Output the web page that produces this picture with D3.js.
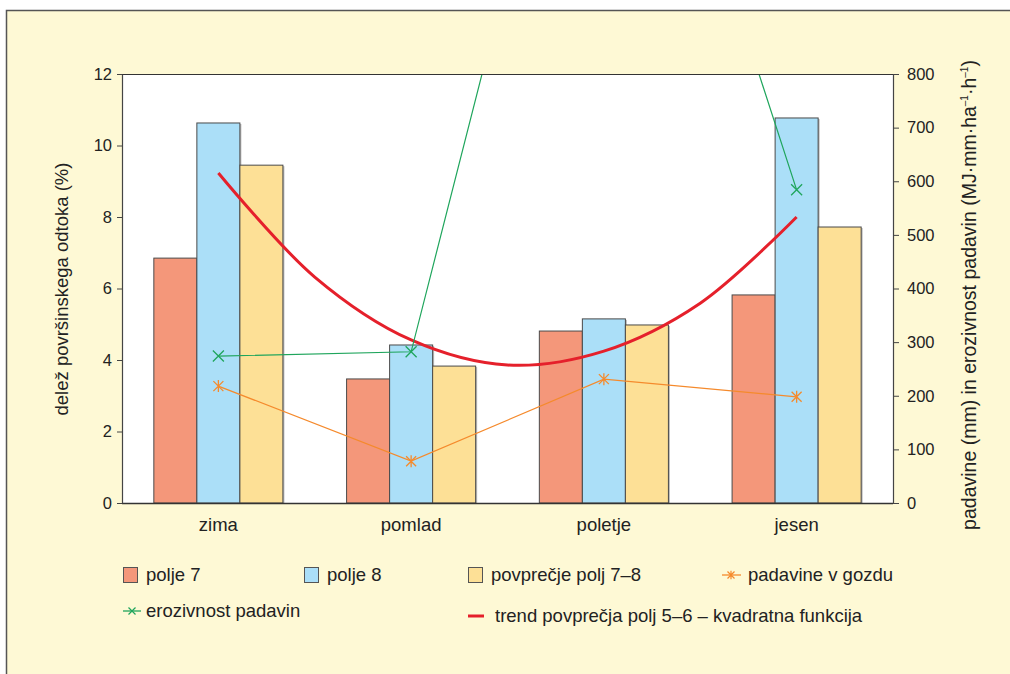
<!DOCTYPE html>
<html>
<head>
<meta charset="utf-8">
<script src="https://cdn.jsdelivr.net/npm/d3@7"></script>
<style>
  body { margin: 0; background: #fff; }
  svg { display: block; font-family: "Liberation Sans", Arial, sans-serif; }
</style>
</head>
<body>
<svg id="chart" width="1010" height="674"></svg>
<script>
"use strict";

// seasons and bar series (left axis, %)
const seasons = ["zima", "pomlad", "poletje", "jesen"];
const barKeys = ["polje 7", "polje 8", "povprečje polj 7–8"];
const polje7 = [6.85, 3.47, 4.81, 5.82];
const polje8 = [10.63, 4.42, 5.15, 10.77];
const povprecje = [9.45, 3.83, 4.98, 7.72];

// lines on right axis
const padavine = [218, 78, 231, 198];
const erozivnost = [274, 282, 1690, 584];

// quadratic trend at half-season steps (left axis)
const trendPos = [0, 0.5, 1, 1.5, 2, 2.5, 3];
const trendVals = [9.23, 6.32, 4.56, 3.86, 4.25, 5.59, 8.0];

const leftTicks = [0, 2, 4, 6, 8, 10, 12];
const rightTicks = [0, 100, 200, 300, 400, 500, 600, 700, 800];

const colors = { "polje 7": "#f4977a", "polje 8": "#abdff8", "povprečje polj 7–8": "#fde096" };
const green = "#1fa55c", orange = "#f58a2c", red = "#e5202b";

const svg = d3.select("#chart");
const plotLeft = 122, plotRight = 893, plotTop = 74, plotBottom = 503;

// panel
svg.append("rect")
    .attr("x", 6.5).attr("y", 10.5)
    .attr("width", 1020).attr("height", 700)
    .attr("fill", "#fef9d5")
    .attr("stroke", "#555").attr("stroke-width", 1.5);

svg.append("rect")
    .attr("x", plotLeft).attr("y", plotTop)
    .attr("width", plotRight - plotLeft).attr("height", plotBottom - plotTop)
    .attr("fill", "#fff");

const x = d3.scaleBand().domain(seasons).range([plotLeft, plotRight]);
const xs = d3.scaleBand().domain(barKeys).range([0, x.bandwidth()]).paddingOuter(0.74);
const yL = d3.scaleLinear().domain([0, 12]).range([plotBottom, plotTop]);
const yR = d3.scaleLinear().domain([0, 800]).range([plotBottom, plotTop]);
const cx = i => x(seasons[i]) + x.bandwidth() / 2;
const xt = d3.scaleLinear().domain([0, 3]).range([cx(0), cx(3)]);

// bars
const barData = [polje7, polje8, povprecje];
const groups = svg.append("g").selectAll("g")
    .data(seasons)
    .join("g")
    .attr("transform", d => `translate(${x(d)},0)`);

groups.selectAll("rect.shadow")
    .data((d, i) => barKeys.map((k, j) => ({ key: k, value: barData[j][i] })))
    .join("rect")
    .attr("class", "shadow")
    .attr("x", d => xs(d.key) + 1.5)
    .attr("y", d => yL(d.value) + 1)
    .attr("width", xs.bandwidth())
    .attr("height", d => plotBottom - yL(d.value) - 1)
    .attr("fill", "#bbb");

groups.selectAll("rect.bar")
    .data((d, i) => barKeys.map((k, j) => ({ key: k, value: barData[j][i] })))
    .join("rect")
    .attr("class", "bar")
    .attr("x", d => xs(d.key))
    .attr("y", d => yL(d.value))
    .attr("width", xs.bandwidth())
    .attr("height", d => plotBottom - yL(d.value))
    .attr("fill", d => colors[d.key])
    .attr("stroke", "#4a4a4a")
    .attr("stroke-width", 1);

// clip for lines
svg.append("clipPath").attr("id", "plotclip")
    .append("rect")
    .attr("x", plotLeft).attr("y", plotTop)
    .attr("width", plotRight - plotLeft).attr("height", plotBottom - plotTop);

const lines = svg.append("g").attr("clip-path", "url(#plotclip)");

function crossPath(s) {
    return `M${-s},${-s}L${s},${s}M${-s},${s}L${s},${-s}`;
}
function starPath(s) {
    return crossPath(s) + `M0,${-s * 1.2}L0,${s * 1.2}`;
}

// trend curve
lines.append("path")
    .datum(trendPos.map((p, i) => [xt(p), yL(trendVals[i])]))
    .attr("d", d3.line().curve(d3.curveCatmullRom))
    .attr("fill", "none")
    .attr("stroke", red)
    .attr("stroke-width", 3);

// padavine v gozdu
lines.append("path")
    .datum(padavine)
    .attr("d", d3.line().x((d, i) => cx(i)).y(d => yR(d)))
    .attr("fill", "none").attr("stroke", orange).attr("stroke-width", 1.2);
lines.selectAll("path.pm")
    .data(padavine)
    .join("path")
    .attr("class", "pm")
    .attr("transform", (d, i) => `translate(${cx(i)},${yR(d)})`)
    .attr("d", starPath(5))
    .attr("stroke", orange).attr("stroke-width", 1.3);

// erozivnost padavin
lines.append("path")
    .datum(erozivnost)
    .attr("d", d3.line().x((d, i) => cx(i)).y(d => yR(d)))
    .attr("fill", "none").attr("stroke", green).attr("stroke-width", 1.2);
lines.selectAll("path.em")
    .data(erozivnost)
    .join("path")
    .attr("class", "em")
    .attr("transform", (d, i) => `translate(${cx(i)},${yR(d)})`)
    .attr("d", crossPath(5.5))
    .attr("stroke", green).attr("stroke-width", 1.3);

// plot frame top + bottom
svg.append("line").attr("x1", plotLeft).attr("x2", plotRight).attr("y1", plotTop + 0.5).attr("y2", plotTop + 0.5)
    .attr("stroke", "#333").attr("stroke-width", 1.2);
svg.append("line").attr("x1", plotLeft).attr("x2", plotRight).attr("y1", plotBottom + 0.5).attr("y2", plotBottom + 0.5)
    .attr("stroke", "#333").attr("stroke-width", 1.5);

// axes
const axL = svg.append("g")
    .attr("transform", `translate(${plotLeft},0)`)
    .call(d3.axisLeft(yL).tickValues(leftTicks).tickSize(5).tickPadding(5).tickSizeOuter(0));
const axR = svg.append("g")
    .attr("transform", `translate(${plotRight},0)`)
    .call(d3.axisRight(yR).tickValues(rightTicks).tickSize(6).tickPadding(8).tickSizeOuter(0));
[axL, axR].forEach(a => {
    a.select(".domain").attr("stroke", "#444").attr("stroke-width", 1.2);
    a.selectAll(".tick line").attr("stroke", "#444");
    a.selectAll("text")
        .attr("font-family", "'Liberation Sans', Arial, sans-serif")
        .attr("font-size", 16.5)
        .attr("fill", "#222");
});

// category labels
svg.append("g").selectAll("text")
    .data(seasons)
    .join("text")
    .attr("x", d => x(d) + x.bandwidth() / 2)
    .attr("y", 531)
    .attr("text-anchor", "middle")
    .attr("font-size", 18.5)
    .attr("fill", "#222")
    .text(d => d);

// axis titles
svg.append("text")
    .attr("transform", "translate(68,289) rotate(-90)")
    .attr("text-anchor", "middle")
    .attr("font-size", 18.5)
    .attr("fill", "#222")
    .text("delež površinskega odtoka (%)");

const rt = svg.append("text")
    .attr("transform", "translate(976,295) rotate(-90)")
    .attr("text-anchor", "middle")
    .attr("font-size", 19.5)
    .attr("fill", "#222");
rt.append("tspan").text("padavine (mm) in erozivnost padavin (MJ·mm·ha");
rt.append("tspan").attr("dy", -8).attr("font-size", 10).text("–1");
rt.append("tspan").attr("dy", 8).text("·h");
rt.append("tspan").attr("dy", -8).attr("font-size", 10).text("–1");
rt.append("tspan").attr("dy", 8).text(")");

// legend
const legendBars = [
    { key: "polje 7", x: 123 },
    { key: "polje 8", x: 304 },
    { key: "povprečje polj 7–8", x: 468 }
];
const lg = svg.append("g").attr("font-size", 18.5).attr("fill", "#222");
lg.selectAll("rect")
    .data(legendBars)
    .join("rect")
    .attr("x", d => d.x + 0.5).attr("y", 567.5)
    .attr("width", 14).attr("height", 15)
    .attr("fill", d => colors[d.key])
    .attr("stroke", "#555");
lg.selectAll("text.lb")
    .data(legendBars)
    .join("text")
    .attr("class", "lb")
    .attr("x", d => d.x + 23).attr("y", 581)
    .text(d => d.key);

// padavine legend
lg.append("line").attr("x1", 722).attr("x2", 741).attr("y1", 575).attr("y2", 575)
    .attr("stroke", orange).attr("stroke-width", 1.3);
lg.append("path").attr("transform", "translate(731,575)").attr("d", starPath(3.5))
    .attr("stroke", orange).attr("stroke-width", 1.2);
lg.append("text").attr("x", 748).attr("y", 581).text("padavine v gozdu");

// erozivnost legend
lg.append("line").attr("x1", 123).attr("x2", 141).attr("y1", 611).attr("y2", 611)
    .attr("stroke", green).attr("stroke-width", 1.3);
lg.append("path").attr("transform", "translate(132,611)").attr("d", crossPath(3.5))
    .attr("stroke", green).attr("stroke-width", 1.2);
lg.append("text").attr("x", 146).attr("y", 617).text("erozivnost padavin");

// trend legend
lg.append("line").attr("x1", 468).attr("x2", 484).attr("y1", 616).attr("y2", 616)
    .attr("stroke", red).attr("stroke-width", 3);
lg.append("text").attr("x", 495).attr("y", 622).text("trend povprečja polj 5–6 – kvadratna funkcija");
</script>
</body>
</html>
